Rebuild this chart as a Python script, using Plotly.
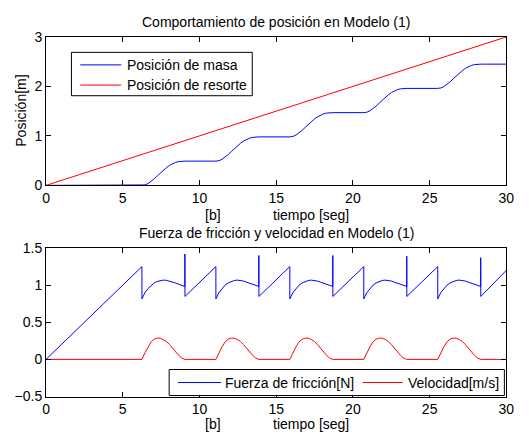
import plotly.graph_objects as go
from plotly.subplots import make_subplots

# ---- data -------------------------------------------------------------
# times at which the mass breaks loose (start of each slip phase), s
slip_start = [6.25, 11.07, 15.89, 20.71, 25.53]
# time offsets inside one slip phase, s
tau = [0.0, 0.2, 0.4, 0.6, 0.8, 1.0, 1.2, 1.4, 1.6, 1.8, 2.0, 2.2, 2.4, 2.6, 2.8]
# velocity of the mass during a slip phase, m/s
vel_slip = [0.0, 0.09, 0.17, 0.235, 0.272, 0.287, 0.285, 0.268, 0.242,
            0.2, 0.147, 0.097, 0.053, 0.018, 0.0]
# friction force during a slip phase, N
fric_slip = [0.815, 0.90, 0.955, 1.0, 1.03, 1.05, 1.063, 1.068, 1.065,
             1.055, 1.04, 1.028, 1.012, 0.997, 0.983]
# displacement gained during a slip phase, m
pos_slip = [0.0, 0.009, 0.037, 0.079, 0.132, 0.191, 0.25, 0.308, 0.36,
            0.405, 0.44, 0.465, 0.481, 0.488, 0.49]
# mass position at rest before each slip, m
rest_pos = [0.0, 0.49, 0.98, 1.47, 1.96]
final_pos = 2.45
# friction peaks when the mass sticks again, N
stick_peak = [1.42, 1.40, 1.40, 1.39, 1.37]
fric_breakaway = 1.25     # static friction reached before slipping, N
fric_after_stick = 0.848  # friction right after sticking, N
fric_end = 1.2            # friction at t = 30 s, N

spring_t = [0, 30]
spring_x = [0, 3]

x_ticks = [0, 5, 10, 15, 20, 25, 30]
y1_ticks = [0, 1, 2, 3]
y2_ticks = [-0.5, 0, 0.5, 1, 1.5]

# ---- assemble the time series -----------------------------------------
t_pos, x_pos = [0.0], [0.0]
t_vel, v_vel = [0.0], [0.0]
t_fr, f_fr = [0.0], [0.0]
for k, t0 in enumerate(slip_start):
    t_pos += [t0 + d for d in tau]
    x_pos += [rest_pos[k] + p for p in pos_slip]
    t_vel += [t0 + d for d in tau]
    v_vel += vel_slip
    t_fr += [t0] + [t0 + d for d in tau]
    f_fr += [fric_breakaway] + fric_slip
    t_stick = t0 + tau[-1]
    t_fr += [t_stick, t_stick + 0.005]
    f_fr += [stick_peak[k], fric_after_stick]
t_pos.append(30.0); x_pos.append(final_pos)
t_vel.append(30.0); v_vel.append(0.0)
t_fr.append(30.0); f_fr.append(fric_end)

# ---- figure -----------------------------------------------------------
W, H = 529, 445
FONT = "Liberation Sans, Arial, sans-serif"
BLUE, RED = "#0000ff", "#ff0000"


def px(x):
    return x / W


def py(y):
    return 1 - y / H


fig = make_subplots(rows=2, cols=1)

fig.add_trace(go.Scatter(x=t_pos, y=x_pos, mode="lines",
                         line=dict(color=BLUE, width=1),
                         name="Posición de masa", showlegend=False), 1, 1)
fig.add_trace(go.Scatter(x=spring_t, y=spring_x, mode="lines",
                         line=dict(color=RED, width=1),
                         name="Posición de resorte", showlegend=False), 1, 1)
fig.add_trace(go.Scatter(x=t_fr, y=f_fr, mode="lines",
                         line=dict(color=BLUE, width=1),
                         name="Fuerza de fricción[N]", showlegend=False), 2, 1)
fig.add_trace(go.Scatter(x=t_vel, y=v_vel, mode="lines",
                         line=dict(color=RED, width=1),
                         name="Velocidad[m/s]", showlegend=False), 2, 1)

axis_style = dict(showline=True, linecolor="black", linewidth=1,
                  mirror="ticks", ticks="inside", ticklen=5,
                  tickcolor="black", tickwidth=1, showgrid=False,
                  zeroline=False, tickfont=dict(family=FONT, size=14,
                                                color="black"))

xdom = [px(43), px(514)]
fig.update_xaxes(axis_style, range=[0, 30], tickvals=x_ticks, domain=xdom)
fig.update_yaxes(axis_style, row=1, col=1, range=[0, 3],
                 tickvals=y1_ticks, domain=[py(184), py(30)])
fig.update_yaxes(axis_style, row=2, col=1, range=[-0.5, 1.5],
                 tickvals=y2_ticks, domain=[py(403), py(249)])

annotations = []


def label(text, x, y, xanchor="center", angle=0):
    annotations.append(dict(text=text, x=px(x), y=py(y), xref="paper",
                            yref="paper", xanchor=xanchor, yanchor="middle",
                            showarrow=False, textangle=angle,
                            font=dict(family=FONT, size=14, color="black")))


label("Comportamiento de posición en Modelo (1)", 278.5, 15)
label("Fuerza de fricción y velocidad en Modelo (1)", 278.5, 233)
label("Posición[m]", 18, 107, angle=-90)
for ylab in (215, 432):
    label("[b]", 213.5, ylab)
    label("tiempo [seg]", 273, ylab, xanchor="left")

shapes = []


def legend_box(x0, y0, x1, y1):
    shapes.append(dict(type="rect", xref="paper", yref="paper",
                       x0=px(x0), x1=px(x1), y0=py(y1), y1=py(y0),
                       line=dict(color="black", width=1),
                       fillcolor="white", layer="above"))


def legend_item(x0, x1, y, color, text, tx):
    shapes.append(dict(type="line", xref="paper", yref="paper",
                       x0=px(x0), x1=px(x1), y0=py(y), y1=py(y),
                       line=dict(color=color, width=1), layer="above"))
    label(text, tx, y, xanchor="left")


# legend of the position plot
legend_box(69, 46, 254, 91)
legend_item(78, 120, 59, BLUE, "Posición de masa", 124)
legend_item(78, 120, 80, RED, "Posición de resorte", 124)
# legend of the friction / velocity plot
legend_box(169, 375, 512, 402)
legend_item(178, 222, 388.5, BLUE, "Fuerza de fricción[N]", 224)
legend_item(367, 408, 388.5, RED, "Velocidad[m/s]", 411)

fig.update_layout(width=W, height=H, margin=dict(l=0, r=0, t=0, b=0),
                  paper_bgcolor="white", plot_bgcolor="white",
                  showlegend=False, annotations=annotations, shapes=shapes,
                  font=dict(family=FONT, size=14, color="black"))

fig.write_html("out.html")
